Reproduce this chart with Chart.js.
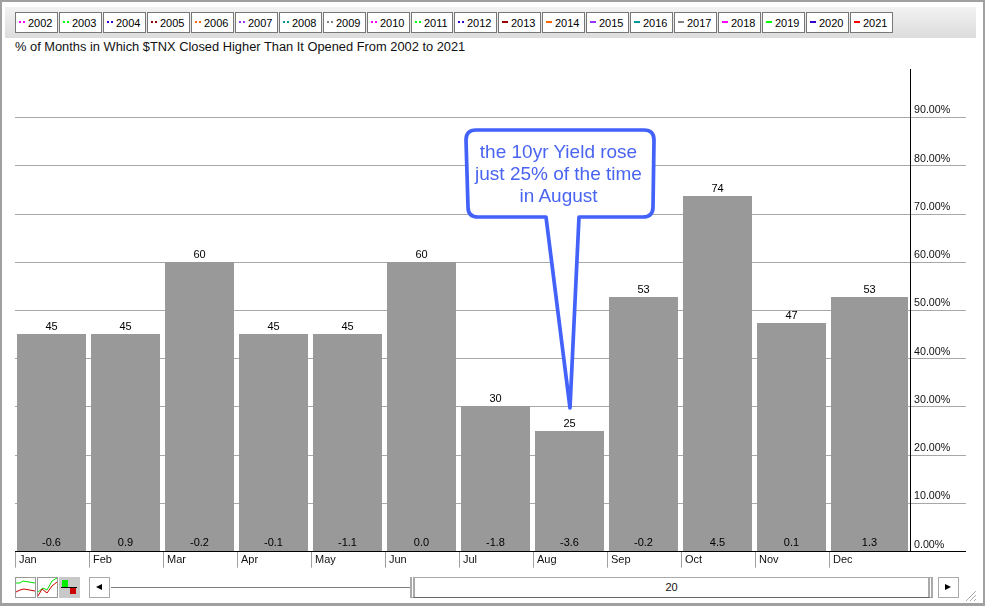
<!DOCTYPE html>
<html>
<head>
<meta charset="utf-8">
<title>$TNX seasonality</title>
<script src="https://cdn.jsdelivr.net/npm/chart.js@4/dist/chart.umd.min.js"></script>
<style>
html, body { margin: 0; padding: 0; background: #fff; }
body { width: 985px; height: 606px; position: relative; overflow: hidden; font-family: "Liberation Sans", Arial, sans-serif; font-size: 12px; color: #111; }
#frame { position: absolute; left: 0; top: 0; width: 981px; height: 601px; border: 2px solid #a0a0a0; border-bottom-width: 3px; box-sizing: content-box; }
#toolbar { position: absolute; left: 5px; top: 7px; width: 971px; height: 31px; background: linear-gradient(#f2f2f2, #dcdcdc); }
.yr { position: absolute; top: 12px; height: 19px; line-height: 20px; background: #fff; border: 1px solid #777; box-sizing: content-box; font-size: 11px; white-space: nowrap; }
.yr i { position: absolute; left: 3px; top: 8px; height: 2px; }
.yr span { position: absolute; left: 12px; top: 0; color: #000; }
#title { position: absolute; left: 15px; top: 39px; line-height: 15px; white-space: nowrap; font-size: 12.85px; }
#chart { position: absolute; left: 0; top: 0; }
#callout { position: absolute; left: 0; top: 0; }
#callout text { font-family: "Liberation Sans", Arial, sans-serif; font-size: 19px; fill: #4a64f2; text-anchor: middle; }
#thumb { position: absolute; left: 410px; top: 577px; width: 523px; height: 21px; box-sizing: border-box; background: #fff; border: 1px solid #aaa; border-bottom: 1px solid #666; border-left: 5px double #aaa; border-right: 5px double #aaa; text-align: center; line-height: 19px; font-size: 11px; }
#track { position: absolute; left: 111px; top: 587px; width: 300px; height: 1px; background: #808080; }
#shot { position: absolute; left: 0; top: 0; pointer-events: none; }
</style>
</head>
<body>
<div id="frame"></div>
<div id="toolbar"></div>
<div id="legend"></div>
<div id="title">% of Months in Which $TNX Closed Higher Than It Opened From 2002 to 2021</div>
<canvas id="chart" width="985" height="606"></canvas>

<svg id="callout" width="985" height="606">
  <path d="M476 130 H644 Q654 130 654 140 L653 207 Q653 217 643 217 H579 L570 408 L546 217 H478 Q468 217 468 207 L466 140 Q466 130 476 130 Z" fill="#fff" stroke="#4262fa" stroke-width="3.7" stroke-linejoin="round"/>
  <text x="558.5" y="158">the 10yr Yield rose</text>
  <text x="558.5" y="180">just 25% of the time</text>
  <text x="558.5" y="202">in August</text>
</svg>

<!-- bottom controls -->
<svg id="shot" width="985" height="606">
  <rect x="15.5" y="577.5" width="20" height="20" fill="#fff" stroke="#999"/>
  <polyline points="16,583 20,583 23,581 35,583" fill="none" stroke="#00e000"/>
  <polyline points="16,592 20,590 24,589 35,591" fill="none" stroke="#cc0000"/>
  <rect x="37.5" y="577.5" width="20" height="20" fill="#fff" stroke="#999"/>
  <polyline points="38,592 43,588 47,590 52,581 57,578" fill="none" stroke="#00e000"/>
  <polyline points="38,596 42,589 47,593 52,586 57,582" fill="none" stroke="#cc0000"/>
  <rect x="59" y="577" width="21" height="21" fill="#c8c8c8"/>
  <rect x="62" y="580" width="6" height="7" fill="#00ee00"/>
  <rect x="70" y="588" width="6" height="6" fill="#cc0000"/>
  <line x1="61" y1="587.5" x2="77" y2="587.5" stroke="#000"/>
  <rect x="89.5" y="577.5" width="20" height="20" fill="#fff" stroke="#aaa"/>
  <polygon points="96,587 102,584 102,590" fill="#000"/>
  <rect x="938.5" y="577.5" width="20" height="20" fill="#fff" stroke="#aaa"/>
  <polygon points="951,587 945,584 945,590" fill="#000"/>
  <line x1="966" y1="601" x2="976" y2="591" stroke="#aaa"/>
  <line x1="970" y1="601" x2="976" y2="595" stroke="#aaa"/>
  <line x1="974" y1="601" x2="976" y2="599" stroke="#aaa"/>
</svg>
<div id="track"></div>
<div id="thumb">20</div>

<script>
// chart data
var months = ['Jan', 'Feb', 'Mar', 'Apr', 'May', 'Jun', 'Jul', 'Aug', 'Sep', 'Oct', 'Nov', 'Dec'];
var pctHigher = [45, 45, 60, 45, 45, 60, 30, 25, 52.6, 73.7, 47.4, 52.6];
var avgChange = [-0.6, 0.9, -0.2, -0.1, -1.1, 0.0, -1.8, -3.6, -0.2, 4.5, 0.1, 1.3];
var yTicks = [0, 10, 20, 30, 40, 50, 60, 70, 80, 90];

// legend buttons
var years = ['2002', '2003', '2004', '2005', '2006', '2007', '2008', '2009', '2010', '2011', '2012',
    '2013', '2014', '2015', '2016', '2017', '2018', '2019', '2020', '2021'];
var yearColors = ['#ff00ff', '#00ff00', '#3300cc', '#990000', '#ff6600', '#9933ff', '#009999', '#808080',
    '#ff00ff', '#00ff00', '#3300cc', '#990000', '#ff6600', '#9933ff', '#009999', '#808080',
    '#ff00ff', '#00ff00', '#3300cc', '#ff0000'];
var yearLefts = [15, 59, 103, 147, 191, 235, 279, 323, 367, 411, 454, 498, 542, 586, 630, 674, 718, 762, 806, 850];

var legend = document.getElementById('legend');
years.forEach(function (y, i) {
    var dotted = i < 11;
    var mark = dotted
        ? 'width:6px;background:repeating-linear-gradient(90deg,' + yearColors[i] + ' 0 2px,transparent 2px 4px)'
        : 'width:6px;background:' + yearColors[i];
    var div = document.createElement('div');
    div.className = 'yr';
    div.style.left = yearLefts[i] + 'px';
    div.style.width = (i === 9 ? 40 : 41) + 'px';
    div.innerHTML = '<i style="' + mark + '"></i><span>' + y + '</span>';
    legend.appendChild(div);
});

// text on the bars, black axis line and the wider last bar
var barExtras = {
    id: 'barExtras',
    afterDatasetsUpdate: function (chart) {
        var bars = chart.getDatasetMeta(0).data;
        bars.forEach(function (bar) {
            bar.x -= 0.5;
            bar.y = Math.floor(bar.y);
            bar.base = Math.floor(bar.base);
        });
        bars[months.length - 1].x += 4;
        bars[months.length - 1].width += 8;
    },
    afterDatasetsDraw: function (chart) {
        var ctx = chart.ctx;
        var y = chart.scales.y;
        ctx.save();
        ctx.fillStyle = '#000';
        ctx.font = '11px "Liberation Sans", Arial, sans-serif';
        ctx.textAlign = 'center';
        ctx.textBaseline = 'middle';
        chart.getDatasetMeta(0).data.forEach(function (bar, i) {
            ctx.fillText(String(Math.round(pctHigher[i])), bar.x, bar.y - 7);
            ctx.fillText(avgChange[i].toFixed(1), bar.x, y.getPixelForValue(0) - 8.5);
        });
        ctx.strokeStyle = '#000';
        ctx.lineWidth = 1;
        ctx.beginPath();
        ctx.moveTo(910.5, Math.floor(chart.chartArea.top));
        ctx.lineTo(910.5, Math.floor(chart.chartArea.bottom));
        ctx.stroke();
        ctx.restore();
    }
};

function gridColor(c) {
    if (c.tick.value === 100) return 'rgba(0,0,0,0)';
    return c.tick.value === 0 ? '#000' : '#a8a8a8';
}

new Chart(document.getElementById('chart').getContext('2d'), {
    type: 'bar',
    data: {
        labels: months,
        datasets: [{
            data: pctHigher,
            backgroundColor: '#999999',
            borderWidth: 0,
            inflateAmount: 0,
            categoryPercentage: 1,
            barPercentage: 69 / 74,
            clip: false
        }]
    },
    options: {
        responsive: false,
        animation: false,
        devicePixelRatio: 1,
        layout: { padding: { left: 15, top: 69.3, right: 19, bottom: 0 } },
        plugins: { legend: { display: false }, tooltip: { enabled: false }, title: { display: false } },
        scales: {
            x: {
                afterFit: function (scale) {
                    scale.height = 54.3;
                    scale.paddingLeft = 0;
                    scale.paddingRight = 0;
                },
                border: { color: '#000' },
                grid: {
                    offset: true,
                    drawOnChartArea: false,
                    tickLength: 16,
                    // the closing tick after Dec has no tick of its own
                    tickColor: function (c) { return c.tick ? '#a0a0a0' : 'rgba(0,0,0,0)'; }
                },
                ticks: {
                    autoSkip: false,
                    maxRotation: 0,
                    align: 'start',
                    labelOffset: -33,
                    padding: -14,
                    color: '#111',
                    font: { family: '"Liberation Sans", Arial, sans-serif', size: 11 }
                }
            },
            y: {
                position: 'right',
                min: 0,
                max: 100,
                afterFit: function (scale) {
                    scale.width = 63;
                    scale.paddingTop = 0;
                    scale.paddingBottom = 0;
                },
                border: { display: false },
                grid: { color: gridColor, tickColor: gridColor, tickLength: 63 },
                ticks: {
                    stepSize: 10,
                    padding: -52,
                    labelOffset: -7,
                    color: '#111',
                    font: { family: '"Liberation Sans", Arial, sans-serif', size: 10.7 },
                    callback: function (v) { return yTicks.indexOf(v) < 0 ? '' : v.toFixed(2) + '%'; }
                }
            }
        }
    },
    plugins: [barExtras]
});
</script>
</body>
</html>
